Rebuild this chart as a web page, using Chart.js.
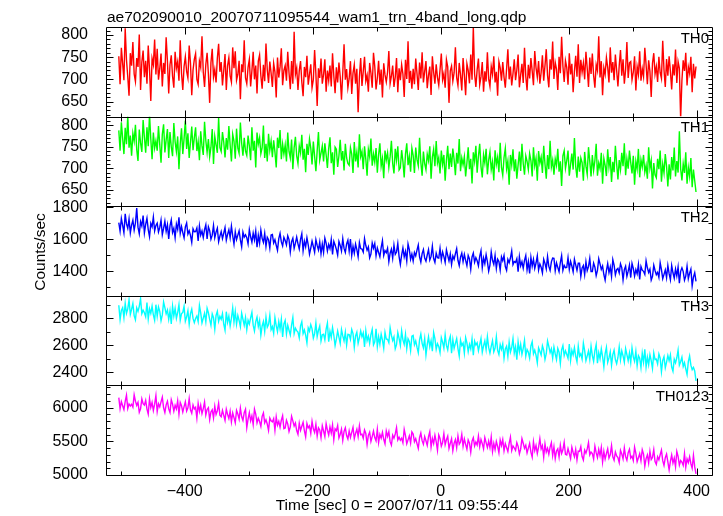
<!DOCTYPE html>
<html>
<head>
<meta charset="utf-8">
<script src="https://cdn.jsdelivr.net/npm/chart.js@4.4.1/dist/chart.umd.min.js"></script>
<style>
  html, body { margin: 0; padding: 0; background: #fff; }
  #wrap { position: relative; width: 723px; height: 516px; }
</style>
</head>
<body>
<div id="wrap"><canvas id="lc" width="723" height="516"></canvas></div>
<script>
// WAM light curve, 4 bands + sum, one value per 2 s bin
const plotTitle = 'ae702090010_20070711095544_wam1_trn_4band_long.qdp';
const xTitle = 'Time [sec] 0 = 2007/07/11 09:55:44';
const yTitle = 'Counts/sec';
const bandNames = ['TH0', 'TH1', 'TH2', 'TH3', 'TH0123'];
const binStart = -503;
const binSize = 2;
const xTicks = [-400, -200, 0, 200, 400];
const th0Ticks = [650, 700, 750, 800];
const th1Ticks = [650, 700, 750, 800];
const th2Ticks = [1400, 1600, 1800];
const th3Ticks = [2400, 2600, 2800];
const th0123Ticks = [5000, 5500, 6000];

const th0 = [
  752, 689, 771, 736, 698, 815, 744, 706, 663, 759,
  731, 784, 712, 695, 748, 728, 801, 676, 739, 765,
  705, 742, 690, 776, 722, 651, 747, 733, 790, 711,
  769, 699, 724, 758, 684, 737, 712, 795, 741, 668,
  733, 754, 707, 681, 762, 725, 740, 697, 788, 714,
  676, 729, 751, 718, 703, 776, 737, 664, 721, 745,
  758, 700, 689, 741, 727, 797, 716, 683, 734, 760,
  712, 647, 738, 769, 705, 722, 693, 748, 780, 717,
  739, 686, 720, 757, 676, 731, 749, 708, 694, 772,
  725, 763, 698, 711, 742, 655, 734, 716, 788, 703,
  690, 727, 745, 684, 719, 762, 700, 731, 668, 741,
  755, 708, 679, 733, 696, 781, 722, 692, 740, 714,
  683, 736, 717, 659, 749, 704, 728, 770, 687, 720,
  731, 697, 762, 715, 678, 741, 690, 807, 711, 726,
  676, 719, 741, 694, 662, 728, 705, 753, 688, 711,
  734, 681, 699, 766, 712, 640, 725, 703, 747, 690,
  711, 745, 672, 720, 697, 731, 684, 759, 708, 669,
  727, 693, 738, 706, 654, 715, 779, 699, 723, 681,
  702, 741, 667, 714, 733, 690, 724, 626, 706, 748,
  685, 718, 751, 696, 709, 672, 737, 714, 681, 760,
  729, 677, 703, 742, 688, 722, 659, 736, 710, 694,
  716, 764, 690, 707, 731, 683, 705, 748, 671, 725,
  698, 733, 712, 660, 744, 701, 786, 692, 719, 679,
  724, 689, 747, 713, 676, 738, 702, 761, 693, 718,
  741, 680, 709, 729, 665, 752, 716, 690, 734, 704,
  687, 722, 758, 699, 713, 681, 744, 728, 647, 719,
  730, 696, 715, 772, 704, 686, 737, 710, 675, 748,
  709, 664, 735, 720, 691, 756, 699, 818, 712, 683,
  722, 747, 688, 706, 739, 672, 718, 695, 761, 701,
  684, 729, 711, 752, 693, 717, 663, 740, 726, 697,
  739, 705, 681, 724, 768, 700, 729, 686, 713, 745,
  698, 721, 756, 682, 710, 735, 692, 771, 707, 675,
  733, 702, 748, 719, 687, 764, 726, 705, 741, 690,
  716, 754, 697, 731, 768, 709, 682, 745, 722, 785,
  701, 738, 723, 676, 751, 714, 796, 730, 694, 742,
  727, 688, 759, 711, 735, 671, 718, 753, 706, 779,
  692, 744, 716, 737, 700, 762, 725, 683, 749, 712,
  758, 709, 681, 733, 720, 797, 704, 741, 664, 726,
  711, 749, 727, 693, 772, 715, 739, 698, 756, 720,
  684, 731, 766, 708, 745, 690, 722, 784, 703, 737,
  740, 699, 716, 752, 675, 729, 711, 763, 697, 724,
  706, 771, 733, 689, 743, 718, 660, 736, 759, 712,
  729, 694, 751, 715, 702, 787, 721, 683, 746, 708,
  752, 718, 677, 734, 709, 767, 692, 740, 725, 611,
  698, 743, 719, 760, 686, 728, 713, 751, 671, 735,
  702, 729
];

const th1 = [
  788, 741, 807, 770, 733, 794, 756, 822, 748, 776,
  729, 781, 763, 801, 744, 717, 790, 759, 738, 812,
  772, 736, 795, 751, 826, 768, 721, 783, 747, 764,
  741, 798, 755, 713, 779, 802, 737, 766, 791, 724,
  784, 750, 728, 805, 762, 739, 774, 698, 757, 793,
  733, 769, 811, 745, 781, 724, 760, 797, 742, 771,
  795, 740, 762, 719, 786, 752, 731, 808, 764, 737,
  768, 727, 749, 791, 710, 774, 755, 736, 817, 748,
  739, 784, 761, 725, 770, 743, 798, 754, 716, 779,
  763, 722, 792, 747, 735, 806, 758, 729, 771, 740,
  730, 776, 752, 719, 795, 741, 764, 702, 783, 756,
  771, 734, 748, 799, 724, 757, 716, 780, 742, 763,
  726, 765, 738, 702, 771, 747, 789, 721, 756, 733,
  754, 716, 783, 739, 724, 767, 698, 748, 773, 729,
  711, 752, 736, 778, 720, 745, 691, 757, 731, 768,
  747, 709, 762, 728, 693, 741, 784, 719, 735, 752,
  716, 758, 731, 701, 746, 772, 712, 737, 685, 749,
  744, 703, 729, 766, 718, 740, 695, 757, 724, 711,
  707, 748, 733, 689, 761, 716, 738, 702, 779, 727,
  739, 698, 751, 721, 683, 744, 727, 769, 706, 733,
  714, 747, 690, 732, 758, 705, 723, 677, 741, 719,
  736, 702, 727, 764, 711, 688, 745, 719, 751, 696,
  701, 742, 716, 679, 733, 758, 707, 728, 692, 747,
  730, 689, 748, 720, 706, 771, 714, 683, 739, 711,
  697, 733, 718, 751, 676, 726, 744, 705, 763, 712,
  725, 688, 741, 709, 731, 671, 719, 752, 698, 734,
  703, 746, 720, 684, 736, 711, 768, 693, 724, 708,
  727, 681, 713, 749, 698, 722, 665, 737, 716, 752,
  690, 728, 757, 704, 679, 731, 712, 745, 686, 719,
  738, 697, 715, 672, 742, 709, 726, 691, 759, 702,
  684, 725, 746, 699, 717, 662, 731, 708, 744, 693,
  721, 676, 708, 739, 694, 757, 711, 685, 729, 716,
  697, 734, 718, 681, 749, 706, 723, 671, 740, 712,
  726, 689, 752, 710, 676, 731, 698, 764, 703, 719,
  685, 722, 707, 745, 692, 716, 659, 729, 741, 700,
  718, 741, 683, 709, 734, 697, 770, 704, 678, 727,
  692, 724, 713, 671, 738, 705, 686, 749, 716, 681,
  731, 695, 718, 757, 683, 712, 699, 736, 664, 723,
  707, 682, 744, 703, 726, 668, 715, 691, 752, 710,
  674, 719, 697, 736, 705, 758, 684, 722, 699, 741,
  713, 688, 729, 662, 716, 698, 745, 679, 720, 703,
  731, 691, 707, 676, 749, 700, 718, 653, 712, 685,
  678, 722, 698, 741, 669, 710, 689, 733, 704, 658,
  709, 674, 726, 695, 748, 681, 717, 690, 786, 699,
  672, 711, 689, 737, 664, 702, 681, 724, 656, 697,
  671, 645
];

const th2 = [
  1705, 1652, 1731, 1688, 1642, 1760, 1697, 1669, 1728, 1641,
  1690, 1721, 1658, 1703, 1797, 1677, 1636, 1712, 1684, 1749,
  1641, 1695, 1733, 1662, 1618, 1701, 1679, 1740, 1654, 1688,
  1702, 1647, 1675, 1721, 1630, 1669, 1714, 1651, 1692, 1603,
  1685, 1722, 1644, 1670, 1611, 1697, 1663, 1738, 1639, 1681,
  1643, 1610, 1679, 1703, 1634, 1655, 1626, 1582, 1667, 1648,
  1649, 1672, 1591, 1684, 1627, 1653, 1612, 1661, 1692, 1603,
  1679, 1655, 1602, 1627, 1688, 1611, 1646, 1671, 1586, 1621,
  1649, 1605, 1639, 1674, 1596, 1632, 1661, 1611, 1684, 1623,
  1571, 1648, 1599, 1627, 1654, 1597, 1554, 1646, 1615, 1629,
  1611, 1573, 1662, 1617, 1583, 1640, 1597, 1653, 1552, 1626,
  1576, 1659, 1607, 1582, 1638, 1557, 1614, 1599, 1546, 1628,
  1631, 1578, 1599, 1564, 1532, 1605, 1638, 1585, 1560, 1613,
  1594, 1566, 1623, 1599, 1522, 1586, 1608, 1544, 1577, 1615,
  1573, 1541, 1601, 1636, 1530, 1590, 1555, 1611, 1567, 1508,
  1546, 1590, 1556, 1521, 1599, 1563, 1534, 1584, 1511, 1572,
  1519, 1608, 1577, 1528, 1569, 1543, 1600, 1507, 1588, 1565,
  1538, 1503, 1588, 1563, 1528, 1605, 1544, 1519, 1572, 1596,
  1528, 1602, 1501, 1557, 1514, 1571, 1537, 1492, 1581, 1543,
  1540, 1521, 1606, 1562, 1533, 1554, 1485, 1509, 1578, 1545,
  1575, 1498, 1547, 1519, 1492, 1549, 1592, 1500, 1531, 1517,
  1545, 1462, 1514, 1539, 1483, 1564, 1507, 1522, 1575, 1493,
  1444, 1503, 1547, 1491, 1526, 1466, 1572, 1537, 1477, 1509,
  1466, 1519, 1498, 1533, 1565, 1492, 1459, 1512, 1537, 1484,
  1465, 1503, 1536, 1472, 1494, 1558, 1481, 1457, 1514, 1486,
  1484, 1545, 1472, 1522, 1493, 1457, 1535, 1500, 1466, 1510,
  1444, 1497, 1476, 1511, 1543, 1470, 1437, 1490, 1515, 1462,
  1507, 1469, 1436, 1500, 1478, 1414, 1491, 1515, 1458, 1486,
  1467, 1435, 1495, 1530, 1424, 1484, 1449, 1505, 1461, 1402,
  1439, 1522, 1470, 1445, 1501, 1420, 1477, 1462, 1409, 1491,
  1467, 1500, 1431, 1407, 1476, 1455, 1484, 1528, 1443, 1462,
  1457, 1480, 1399, 1492, 1435, 1461, 1420, 1469, 1500, 1411,
  1462, 1388, 1489, 1433, 1476, 1419, 1453, 1498, 1409, 1447,
  1426, 1391, 1476, 1451, 1416, 1493, 1432, 1407, 1460, 1484,
  1482, 1405, 1454, 1426, 1399, 1456, 1499, 1407, 1438, 1424,
  1425, 1486, 1413, 1463, 1434, 1398, 1476, 1441, 1407, 1451,
  1451, 1369, 1422, 1437, 1380, 1461, 1405, 1430, 1482, 1399,
  1399, 1452, 1427, 1374, 1407, 1480, 1448, 1413, 1434, 1381,
  1346, 1405, 1449, 1393, 1428, 1368, 1474, 1439, 1379, 1411,
  1419, 1391, 1448, 1424, 1347, 1411, 1433, 1369, 1402, 1440,
  1362, 1451, 1420, 1371, 1412, 1386, 1443, 1350, 1431, 1408,
  1401, 1382, 1467, 1423, 1394, 1415, 1346, 1370, 1439, 1406,
  1380, 1394, 1363, 1455, 1412, 1355, 1382, 1410, 1361, 1438,
  1386, 1348, 1437, 1392, 1358, 1415, 1372, 1428, 1327, 1401,
  1423, 1399, 1346, 1371, 1432, 1355, 1390, 1415, 1310, 1365,
  1392, 1338
];

const th3 = [
  2898, 2791, 2860, 2880, 2806, 2911, 2838, 2871, 2938, 2830,
  2868, 2911, 2821, 2790, 2879, 2852, 2890, 2947, 2836, 2861,
  2842, 2813, 2918, 2797, 2871, 2837, 2891, 2827, 2787, 2902,
  2816, 2885, 2852, 2783, 2826, 2921, 2880, 2834, 2862, 2793,
  2856, 2760, 2891, 2818, 2874, 2800, 2844, 2903, 2787, 2836,
  2844, 2890, 2779, 2812, 2857, 2757, 2836, 2869, 2800, 2769,
  2800, 2818, 2778, 2897, 2841, 2767, 2802, 2839, 2775, 2875,
  2842, 2793, 2750, 2833, 2805, 2721, 2822, 2853, 2779, 2815,
  2794, 2836, 2757, 2712, 2850, 2772, 2817, 2744, 2802, 2878,
  2773, 2852, 2757, 2822, 2785, 2738, 2839, 2794, 2749, 2807,
  2717, 2786, 2758, 2804, 2845, 2750, 2707, 2776, 2809, 2740,
  2785, 2677, 2744, 2777, 2704, 2809, 2735, 2755, 2824, 2717,
  2739, 2690, 2806, 2747, 2703, 2777, 2721, 2794, 2663, 2759,
  2785, 2685, 2749, 2712, 2677, 2751, 2807, 2688, 2728, 2710,
  2698, 2655, 2745, 2776, 2687, 2714, 2676, 2619, 2730, 2705,
  2754, 2723, 2654, 2687, 2766, 2666, 2711, 2744, 2633, 2679,
  2683, 2641, 2720, 2765, 2627, 2705, 2660, 2733, 2675, 2599,
  2648, 2706, 2661, 2616, 2717, 2670, 2633, 2698, 2603, 2682,
  2680, 2644, 2718, 2687, 2586, 2670, 2698, 2615, 2658, 2707,
  2664, 2693, 2588, 2709, 2635, 2669, 2615, 2679, 2719, 2604,
  2627, 2723, 2592, 2665, 2609, 2683, 2639, 2580, 2696, 2647,
  2645, 2620, 2731, 2674, 2636, 2663, 2574, 2605, 2695, 2652,
  2600, 2708, 2641, 2608, 2681, 2576, 2650, 2630, 2561, 2668,
  2674, 2605, 2633, 2587, 2546, 2641, 2684, 2615, 2582, 2651,
  2529, 2605, 2663, 2590, 2635, 2557, 2695, 2650, 2571, 2613,
  2592, 2546, 2657, 2624, 2579, 2679, 2600, 2567, 2636, 2667,
  2542, 2642, 2578, 2615, 2650, 2576, 2520, 2639, 2599, 2617,
  2543, 2658, 2618, 2554, 2608, 2574, 2648, 2527, 2632, 2603,
  2619, 2561, 2606, 2651, 2550, 2597, 2634, 2569, 2664, 2585,
  2543, 2592, 2635, 2552, 2580, 2664, 2563, 2532, 2606, 2570,
  2611, 2504, 2573, 2593, 2519, 2624, 2551, 2584, 2651, 2543,
  2590, 2494, 2625, 2552, 2608, 2534, 2578, 2637, 2521, 2570,
  2549, 2506, 2596, 2627, 2538, 2565, 2527, 2470, 2581, 2556,
  2528, 2597, 2564, 2495, 2538, 2633, 2592, 2546, 2574, 2505,
  2587, 2538, 2495, 2578, 2550, 2466, 2567, 2598, 2524, 2560,
  2534, 2505, 2610, 2489, 2563, 2529, 2583, 2519, 2479, 2594,
  2520, 2538, 2498, 2617, 2561, 2487, 2522, 2559, 2495, 2595,
  2524, 2482, 2561, 2606, 2468, 2546, 2501, 2574, 2516, 2440,
  2539, 2585, 2474, 2507, 2552, 2452, 2531, 2564, 2495, 2464,
  2510, 2589, 2494, 2559, 2522, 2475, 2576, 2531, 2486, 2544,
  2474, 2582, 2515, 2482, 2555, 2450, 2524, 2504, 2435, 2542,
  2475, 2571, 2440, 2513, 2457, 2531, 2487, 2428, 2544, 2495,
  2498, 2462, 2536, 2505, 2404, 2488, 2516, 2433, 2476, 2525,
  2486, 2529, 2439, 2408, 2497, 2470, 2508, 2565, 2454, 2479,
  2512, 2443, 2471, 2425, 2384, 2479, 2522, 2453, 2420, 2437,
  2410, 2336
];

const th0123 = [
  6149, 5984, 6089, 6029, 5971, 6093, 6185, 5988, 6054, 6024,
  6049, 6008, 6190, 6096, 6034, 6079, 5931, 5982, 6130, 6059,
  6038, 6107, 5978, 5904, 6130, 6002, 6077, 5957, 6051, 6178,
  5943, 6056, 6011, 6086, 6155, 5998, 5928, 6041, 6095, 5981,
  5928, 6119, 6052, 5948, 6035, 5980, 6102, 5903, 6076, 6027,
  5935, 6016, 6087, 5950, 5997, 6134, 5969, 5918, 6040, 5980,
  6005, 5847, 6063, 5943, 6035, 5913, 5986, 6082, 5892, 5973,
  5999, 5823, 5937, 5969, 5847, 6020, 5900, 5954, 6065, 5887,
  5864, 5958, 5885, 5810, 5977, 5900, 5838, 5945, 5789, 5920,
  5851, 5776, 5958, 5905, 5830, 5994, 5864, 5810, 5924, 5975,
  5703, 5830, 5924, 5804, 5879, 5751, 5977, 5903, 5774, 5843,
  5794, 5723, 5871, 5922, 5774, 5819, 5757, 5663, 5845, 5804,
  5788, 5837, 5664, 5863, 5741, 5796, 5709, 5813, 5880, 5689,
  5698, 5812, 5758, 5645, 5715, 5872, 5803, 5728, 5773, 5660,
  5604, 5769, 5664, 5724, 5782, 5660, 5568, 5765, 5699, 5729,
  5619, 5797, 5686, 5632, 5752, 5579, 5701, 5669, 5555, 5731,
  5653, 5572, 5762, 5666, 5593, 5715, 5623, 5743, 5527, 5685,
  5659, 5734, 5552, 5605, 5680, 5516, 5646, 5700, 5586, 5535,
  5654, 5560, 5633, 5708, 5541, 5618, 5680, 5573, 5729, 5598,
  5606, 5546, 5668, 5617, 5452, 5589, 5636, 5499, 5570, 5651,
  5555, 5506, 5679, 5480, 5602, 5547, 5634, 5530, 5463, 5654,
  5572, 5643, 5495, 5444, 5592, 5547, 5609, 5703, 5521, 5562,
  5516, 5546, 5480, 5677, 5585, 5463, 5521, 5581, 5476, 5641,
  5608, 5495, 5540, 5465, 5396, 5553, 5623, 5510, 5456, 5570,
  5508, 5439, 5568, 5642, 5416, 5544, 5469, 5589, 5495, 5368,
  5594, 5543, 5429, 5483, 5613, 5449, 5524, 5577, 5395, 5470,
  5539, 5361, 5472, 5526, 5406, 5579, 5457, 5489, 5603, 5427,
  5536, 5455, 5384, 5521, 5474, 5337, 5502, 5553, 5431, 5491,
  5446, 5577, 5421, 5528, 5466, 5389, 5556, 5481, 5408, 5502,
  5406, 5564, 5348, 5468, 5376, 5498, 5425, 5329, 5519, 5438,
  5526, 5361, 5466, 5406, 5348, 5470, 5562, 5365, 5431, 5401,
  5366, 5480, 5426, 5313, 5383, 5540, 5471, 5396, 5441, 5328,
  5399, 5468, 5339, 5265, 5491, 5363, 5438, 5318, 5412, 5539,
  5388, 5437, 5264, 5463, 5341, 5396, 5309, 5413, 5480, 5289,
  5419, 5243, 5357, 5389, 5267, 5440, 5320, 5374, 5485, 5307,
  5298, 5392, 5319, 5244, 5411, 5334, 5272, 5379, 5223, 5354,
  5350, 5421, 5273, 5222, 5370, 5325, 5387, 5481, 5299, 5340,
  5319, 5238, 5428, 5332, 5259, 5381, 5289, 5409, 5193, 5351,
  5237, 5318, 5389, 5252, 5299, 5436, 5271, 5220, 5342, 5282,
  5259, 5184, 5366, 5313, 5238, 5402, 5272, 5218, 5332, 5383,
  5251, 5281, 5215, 5412, 5320, 5198, 5256, 5316, 5211, 5376,
  5311, 5133, 5244, 5298, 5178, 5351, 5229, 5261, 5375, 5199,
  5158, 5271, 5226, 5301, 5370, 5213, 5143, 5256, 5310, 5196,
  5075, 5202, 5296, 5176, 5251, 5123, 5349, 5275, 5146, 5215,
  5192, 5143, 5316, 5117, 5239, 5184, 5271, 5167, 5100, 5291,
  5120, 5015
];

// axis limits and minor tick steps per panel
const bandMin = [616, 612, 1248, 2303, 5000];
const bandMax = [818, 820, 1808, 2968, 6330];
const bandMinor = [10, 10, 100, 100, 100];
const bandColors = ['#ff0000', '#00ff00', '#0000ff', '#00ffff', '#ff00ff'];

const series = [th0, th1, th2, th3, th0123];
const bandTicks = [th0Ticks, th1Ticks, th2Ticks, th3Ticks, th0123Ticks];
const times = th0.map((_, i) => binStart + i * binSize);
const FONT = '"Liberation Sans", Arial, Helvetica, sans-serif';
const plain = v => String(v).replace('-', '\u2212');

const scales = {
  x: {
    type: 'linear', position: 'bottom', min: -523, max: 424,
    grid: { display: false }, border: { display: false },
    afterBuildTicks: s => { s.ticks = xTicks.map(v => ({ value: v })); },
    ticks: { padding: -1, autoSkip: false, color: '#000', maxRotation: 0, font: { family: FONT, size: 16 }, callback: plain },
    afterFit: s => { s.height = 41; }
  }
};
bandNames.forEach((name, i) => {
  scales['y' + i] = {
    type: 'linear', position: 'left', stack: 'lc', stackWeight: 1, weight: bandNames.length - i,
    min: bandMin[i], max: bandMax[i],
    grid: { display: false }, border: { display: false },
    afterBuildTicks: s => { s.ticks = bandTicks[i].map(v => ({ value: v })); },
    ticks: { padding: 10, autoSkip: false, color: '#000', font: { family: FONT, size: 16 }, callback: plain },
    afterFit: s => { s.width = 106; }
  };
});

// keep each curve inside its own panel
const panelClip = {
  id: 'panelClip',
  beforeDatasetDraw(chart, args) {
    const s = chart.scales[args.meta.yAxisID];
    const a = chart.chartArea;
    chart.ctx.save();
    chart.ctx.beginPath();
    chart.ctx.rect(a.left, s.top, a.right - a.left, s.bottom - s.top);
    chart.ctx.clip();
  },
  afterDatasetDraw(chart) {
    chart.ctx.restore();
  }
};

// qdp style frames, inward ticks and labels
const panelFrame = {
  id: 'panelFrame',
  afterDraw(chart) {
    const { ctx, chartArea: a, scales: sc } = chart;
    const px = v => Math.round(v) + 0.5;
    const L = px(a.left), R = px(a.right);
    ctx.save();
    ctx.strokeStyle = '#000';
    ctx.lineWidth = 1;
    ctx.beginPath();
    bandNames.forEach((_, i) => {
      const ys = sc['y' + i];
      const T = px(ys.top), B = px(ys.bottom);
      ctx.rect(L, T, R - L, B - T);
      const st = bandMinor[i];
      const major = bandTicks[i][1] - bandTicks[i][0];
      for (let v = Math.ceil(ys.min / st) * st; v <= ys.max; v += st) {
        const y = px(ys.getPixelForValue(v));
        const len = v % major === 0 ? 7 : 4;
        ctx.moveTo(L, y); ctx.lineTo(L + len, y);
        ctx.moveTo(R, y); ctx.lineTo(R - len, y);
      }
      for (let t = -500; t <= 400; t += 100) {
        const x = px(sc.x.getPixelForValue(t));
        const len = t % 200 === 0 ? 7 : 4;
        ctx.moveTo(x, T); ctx.lineTo(x, T + len);
        ctx.moveTo(x, B); ctx.lineTo(x, B - len);
      }
    });
    ctx.stroke();

    ctx.fillStyle = '#000';
    ctx.font = '15px ' + FONT;
    ctx.textAlign = 'right';
    ctx.textBaseline = 'alphabetic';
    bandNames.forEach((name, i) => {
      ctx.fillText(name, a.right - 3, sc['y' + i].top + 15.5);
    });

    ctx.font = '15.5px ' + FONT;
    ctx.textAlign = 'left';
    ctx.fillText(plotTitle, 107, 21.5);

    ctx.textAlign = 'center';
    ctx.textBaseline = 'middle';
    ctx.fillText(xTitle, 397, 506);

    ctx.translate(41, 252);
    ctx.rotate(-Math.PI / 2);
    ctx.fillText(yTitle, 0, 0);
    ctx.restore();
  }
};

new Chart(document.getElementById('lc'), {
  type: 'line',
  data: {
    datasets: series.map((vals, i) => ({
      label: bandNames[i],
      data: vals.map((v, j) => ({ x: times[j], y: v })),
      yAxisID: 'y' + i,
      borderColor: bandColors[i],
      borderWidth: 1.4,
      pointRadius: 0,
      fill: false,
      tension: 0
    }))
  },
  options: {
    responsive: false,
    animation: false,
    events: [],
    layout: { padding: { top: 27, right: 11, bottom: 0, left: 0 } },
    scales,
    plugins: { legend: { display: false }, tooltip: { enabled: false } }
  },
  plugins: [panelClip, panelFrame]
});
</script>
</body>
</html>
